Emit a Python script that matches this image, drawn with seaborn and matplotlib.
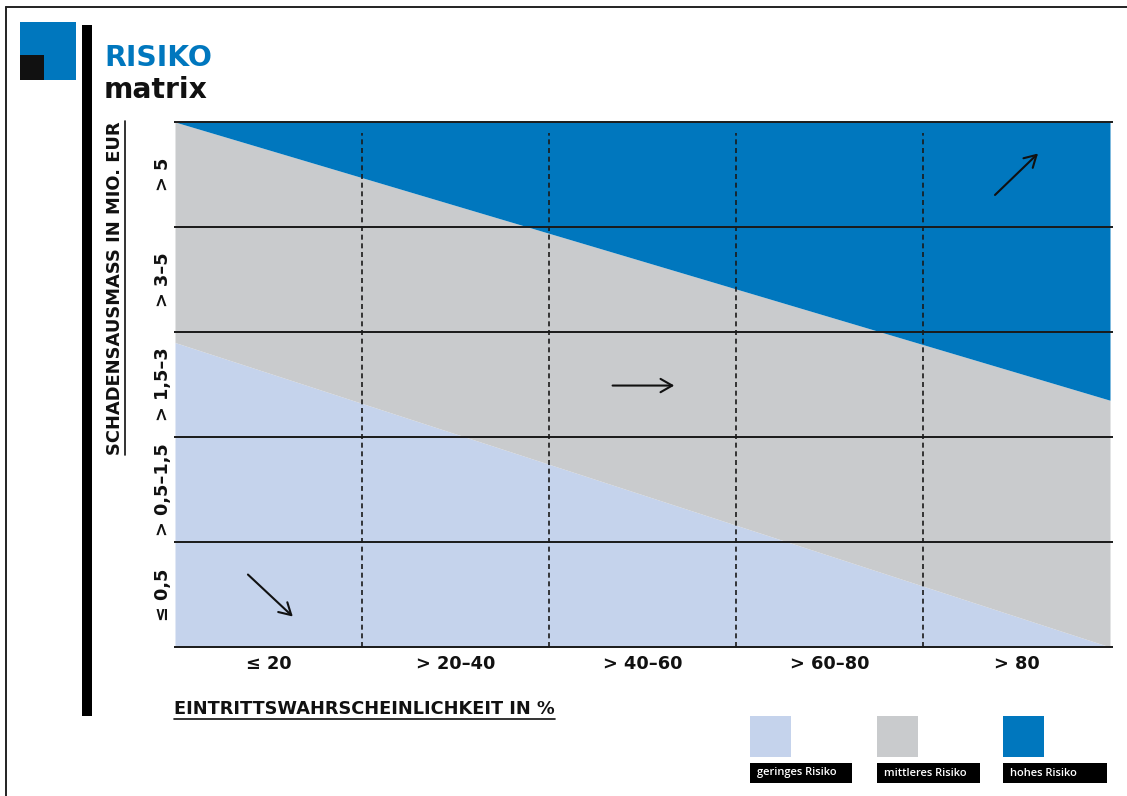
import matplotlib
matplotlib.use("Agg")
import matplotlib.pyplot as plt
from matplotlib.patches import Rectangle
import seaborn as sns
import pandas as pd

# Category labels of the risk matrix
x_labels = ["≤ 20", "> 20–40", "> 40–60", "> 60–80", "> 80"]
y_labels = ["≤ 0,5", "> 0,5–1,5", "> 1,5–3", "> 3–5", "> 5"]

# Zone boundaries across the probability axis (in category units)
boundary_x = [0, 5]
upper_boundary = [5.0, 2.35]   # between medium and high risk
lower_boundary = [2.9, 0.0]    # between low and medium risk

legend_labels = ["geringes Risiko", "mittleres Risiko", "hohes Risiko"]
zone_colors = ["#C5D3EC", "#C9CBCD", "#0077BE"]

sns.set_theme(style="white")
plt.rcParams["font.family"] = ["DejaVu Sans"]

fig = plt.figure(figsize=(11.27, 7.96), dpi=100)
W, H = 1127, 796

def fx(px):
    return px / W

def fy(py):
    return 1 - py / H

ax = fig.add_axes([fx(175), fy(647), (1110 - 175) / W, (647 - 122) / H])

df = pd.DataFrame({"x": boundary_x, "upper": upper_boundary, "lower": lower_boundary})
sns.lineplot(data=df, x="x", y="upper", ax=ax, color=zone_colors[2], linewidth=0)
sns.lineplot(data=df, x="x", y="lower", ax=ax, color=zone_colors[0], linewidth=0)

ax.fill_between(df["x"], 0, df["lower"], color=zone_colors[0], linewidth=0)
ax.fill_between(df["x"], df["lower"], df["upper"], color=zone_colors[1], linewidth=0)
ax.fill_between(df["x"], df["upper"], 5, color=zone_colors[2], linewidth=0)

ax.set_xlim(0, 5)
ax.set_ylim(0, 5)
for s in ax.spines.values():
    s.set_visible(False)
ax.set_xlabel("")
ax.set_ylabel("")

# Row separators (solid) and column separators (dashed)
for yv in range(0, 6):
    ax.plot([-0.005, 5.015], [yv, yv], color="#1a1a1a", lw=1.4, clip_on=False,
            solid_capstyle="butt", zorder=3)
for xv in range(1, 5):
    ax.plot([xv, xv], [0, 4.9], color="#1a1a1a", lw=1.2, ls=(0, (3, 2.2)), zorder=3)

ax.set_xticks([i + 0.5 for i in range(5)])
ax.set_xticklabels(x_labels, fontsize=12.8, fontweight="bold", color="#111111")
ax.set_yticks([i + 0.5 for i in range(5)])
ax.set_yticklabels(y_labels, fontsize=12.8, fontweight="bold", color="#111111",
                   rotation=90, va="center")
ax.tick_params(axis="x", length=0, pad=6)
ax.tick_params(axis="y", length=0, pad=2)

# Direction arrows
arrow_kw = dict(arrowstyle="->,head_length=0.7,head_width=0.4", color="#111111",
                lw=1.5, shrinkA=0, shrinkB=0)
ax.annotate("", xy=(0.63, 0.29), xytext=(0.39, 0.69), arrowprops=arrow_kw)
ax.annotate("", xy=(2.67, 2.49), xytext=(2.34, 2.49), arrowprops=arrow_kw)
ax.annotate("", xy=(4.615, 4.70), xytext=(4.385, 4.305), arrowprops=arrow_kw)

# Axis titles (underlined)
ytitle = fig.text(fx(115), fy(288), "SCHADENSAUSMASS IN MIO. EUR", rotation=90,
                  ha="center", va="center", fontsize=12.9, fontweight="bold",
                  color="#111111")
xtitle = fig.text(fx(174), fy(709), "EINTRITTSWAHRSCHEINLICHKEIT IN %", ha="left",
                  va="center", fontsize=12.8, fontweight="bold", color="#111111")

# Title and logo
fig.text(fx(104), fy(58), "RISIKO", ha="left", va="center", fontsize=20.3,
         fontweight="bold", color="#0077BE")
fig.text(fx(104), fy(90), "matrix", ha="left", va="center", fontsize=20.3,
         fontweight="bold", color="#111111")
fig.add_artist(Rectangle((fx(20), fy(80)), (76 - 20) / W, (80 - 22) / H,
                         transform=fig.transFigure, color="#0077BE", lw=0))
fig.add_artist(Rectangle((fx(20), fy(80)), (44 - 20) / W, (80 - 55) / H,
                         transform=fig.transFigure, color="#111111", lw=0))
fig.add_artist(Rectangle((fx(82), fy(716)), (92 - 82) / W, (716 - 25) / H,
                         transform=fig.transFigure, color="#000000", lw=0))

# Frame lines along top and left edges
fig.add_artist(plt.Line2D([fx(6), 1], [fy(7), fy(7)], color="#222222", lw=1.4))
fig.add_artist(plt.Line2D([fx(6), fx(6)], [fy(7), 0], color="#222222", lw=1.4))

# Legend
legend_x = [750, 877, 1003]
label_w = [102, 103, 104]
for lx, lw_, col, lab in zip(legend_x, label_w, zone_colors, legend_labels):
    fig.add_artist(Rectangle((fx(lx), fy(757)), 41 / W, 41 / H,
                             transform=fig.transFigure, color=col, lw=0))
    fig.add_artist(Rectangle((fx(lx), fy(783)), lw_ / W, 20 / H,
                             transform=fig.transFigure, color="#000000", lw=0))
    fig.text(fx(lx + 7), fy(773), lab, ha="left", va="center", fontsize=8.0,
             color="white", family=["Open Sans", "DejaVu Sans"], fontweight="semibold")

# Underlines sized to the rendered titles
fig.canvas.draw()
inv = fig.transFigure.inverted()
bb = inv.transform_bbox(ytitle.get_window_extent())
fig.add_artist(plt.Line2D([bb.x1 + 1 / W, bb.x1 + 1 / W], [bb.y0, bb.y1],
                          color="#111111", lw=1.2))
bb = inv.transform_bbox(xtitle.get_window_extent())
fig.add_artist(plt.Line2D([bb.x0, bb.x1], [bb.y0 - 1 / H, bb.y0 - 1 / H],
                          color="#111111", lw=1.2))

fig.savefig("out.png", dpi=100, facecolor="white")
